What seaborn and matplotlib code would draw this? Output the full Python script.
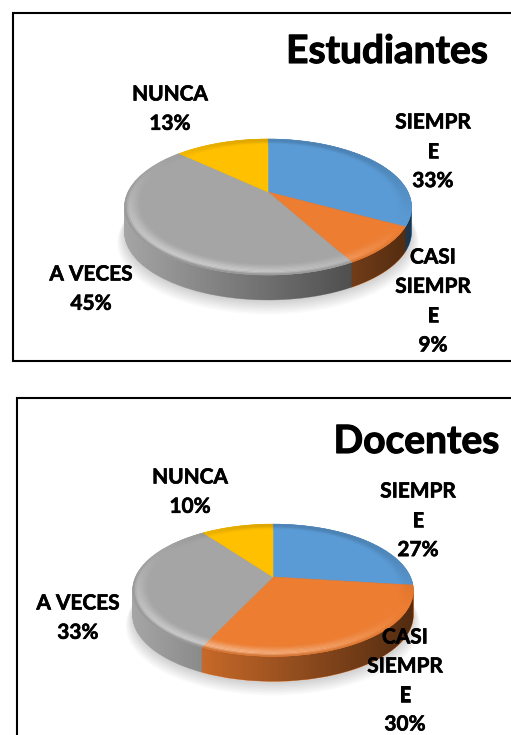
import numpy as np
import matplotlib
matplotlib.use("Agg")
import matplotlib.pyplot as plt
import matplotlib.patheffects as pe
import seaborn as sns
from matplotlib.patches import Wedge, Rectangle, PathPatch
from matplotlib.path import Path
from matplotlib.transforms import Transform

categories = ["SIEMPRE", "CASI SIEMPRE", "A VECES", "NUNCA"]
est_values = [33, 9, 45, 13]
doc_values = [27, 30, 33, 10]
est_title = "Estudiantes"
doc_title = "Docentes"
colors = ["#5B9BD5", "#ED7D31", "#A5A5A5", "#FFC000"]

sns.set_theme(style="white")
palette = sns.color_palette(colors)
FONT = ["Lato", "DejaVu Sans"]

W, H = 511, 735
fig = plt.figure(figsize=(W / 100, H / 100), dpi=100)
ax = fig.add_axes([0, 0, 1, 1])


class Persp(Transform):
    input_dims = output_dims = 2
    is_separable = False
    has_inverse = False

    def __init__(self, cx, cy, a, b, k, dy=0.0):
        super().__init__()
        self.p = (cx, cy, a, b, k, dy)

    def transform_non_affine(self, values):
        cx, cy, a, b, k, dy = self.p
        v = np.asarray(values, float)
        w = 1 + k * v[:, 1]
        return np.column_stack((cx + b * v[:, 0] / w, cy + dy - a * v[:, 1] / w))


def blend(c, t, amt):
    c = np.array(c)
    return tuple(np.clip(c + (np.array(t) - c) * amt, 0, 1))


def pie3d(values, cx, cy, a, b, k, depth):
    base = Persp(cx, cy, a, b, k)
    # soft shadow
    for i in range(9):
        s = 1.0 + 0.006 * i
        ax.add_patch(Wedge((0, 0), s, 0, 360, fc="#000000", ec="none", alpha=0.02,
                           transform=Persp(cx, cy, a, b, k, depth + 2 + i * 0.9) + ax.transData, zorder=1))
    # side wall: stacked copies of the pie
    for d in np.arange(depth, 0, -1.0):
        wedges, _ = ax.pie(values, colors=palette, startangle=90, counterclock=False,
                           wedgeprops=dict(linewidth=0.4))
        tr = Persp(cx, cy, a, b, k, d) + ax.transData
        for w, col in zip(wedges, palette):
            w.set_edgecolor(col)
            w.set_transform(tr)
            w.set_zorder(2)
    # horizontal shading over the wall
    t = np.linspace(0, 2 * np.pi, 361)
    pts = np.column_stack((np.cos(t), np.sin(t)))
    top = base.transform_non_affine(pts)
    low = Persp(cx, cy, a, b, k, depth).transform_non_affine(pts)
    il, ir = top[:, 0].argmin(), top[:, 0].argmax()
    xl, xr = top[il, 0], top[ir, 0]
    up = np.roll(np.arange(361), -ir)[:(il - ir) % 361 + 1]
    lo_idx = np.roll(np.arange(361), -il)[:(ir - il) % 361 + 1]
    outline = np.vstack((top[up], low[lo_idx]))
    img = np.zeros((1, 256, 4))
    img[0, :, 3] = np.linspace(0.0, 0.66, 256)
    im = ax.imshow(img, extent=(xl, xr, cy + 120, cy - 120), aspect="auto", zorder=3, interpolation="bilinear")
    im.set_clip_path(PathPatch(Path(outline), transform=ax.transData, fc="none", ec="none"))
    # top surface
    wedges, _ = ax.pie(values, colors=palette, startangle=90, counterclock=False,
                       wedgeprops=dict(linewidth=0.4))
    tr = base + ax.transData
    for w, col in zip(wedges, palette):
        w.set_edgecolor(col)
        w.set_transform(tr)
        w.set_zorder(4)
    # bevel at the rim of the top surface
    L = np.array([-0.45, -0.89])
    r0 = 0.88
    radii = np.linspace(r0, 1.0, 11)
    total = float(sum(values))
    start = 90.0
    for v, col in zip(values, palette):
        end = start - 360 * v / total
        n = max(int((start - end) / 3), 2)
        edges = np.linspace(end, start, n + 1)
        for th1, th2 in zip(edges[:-1], edges[1:]):
            mid = np.radians((th1 + th2) / 2)
            s = float(np.dot([np.cos(mid), np.sin(mid)], L))
            for r1, r2 in zip(radii[:-1], radii[1:]):
                u = ((r1 + r2) / 2 - r0) / (1 - r0)
                rise = np.sin(np.pi / 2 * min(u / 0.78, 1)) ** 2
                fall = max(0.0, (u - 0.78) / 0.22)
                bump = rise * (1 - fall)
                if s > 0:
                    fc = blend(col, (1, 1, 1), 0.42 * s ** 1.3 * bump)
                    fc = blend(fc, (0, 0, 0), 0.16 * fall * s)
                else:
                    fc = blend(col, (0, 0, 0), 0.16 * (-s) * rise)
                ax.add_patch(Wedge((0, 0), r2, th1, th2 + 0.2, width=r2 - r1, fc=fc, ec=fc, lw=0.2,
                                   transform=tr, zorder=5))
        start = end


def lines(x, y0, parts, step=29.3):
    for i, s in enumerate(parts):
        ax.text(x, y0 + 1.5 + i * step, s, ha="center", va="center", fontsize=15, fontweight="bold",
                family=FONT, color="black", zorder=10,
                path_effects=[pe.withStroke(linewidth=0.45, foreground="black")])


def title(x, y, s):
    ax.text(x, y, s, ha="center", va="center", fontsize=28, fontweight="bold", family=FONT,
            color="black", zorder=10, path_effects=[pe.withStroke(linewidth=0.8, foreground="black")])


# frames
ax.add_patch(Rectangle((13, 13), 530, 348, fc="white", ec="black", lw=1.5, zorder=0.5))
ax.add_patch(Rectangle((17, 398), 530, 380, fc="white", ec="black", lw=1.5, zorder=0.5))

pie3d(est_values, 268, 192, 64.7, 140, 0.2206, 25)
pie3d(doc_values, 273, 577, 63.5, 137.5, 0.2, 25)

title(387, 51.5, est_title)
title(416.5, 441.5, doc_title)

lines(433, 121, ["SIEMPR", "E", f"{est_values[0]}%"])
lines(433, 256, ["CASI", "SIEMPR", "E", f"{est_values[1]}%"])
lines(91, 273, ["A VECES", f"{est_values[2]}%"])
lines(170, 93, ["NUNCA", f"{est_values[3]}%"])

lines(418, 490, ["SIEMPR", "E", f"{doc_values[0]}%"])
lines(405, 636, ["CASI", "SIEMPR", "E", f"{doc_values[1]}%"], step=29.0)
lines(78, 602, ["A VECES", f"{doc_values[2]}%"])
lines(190, 476, ["NUNCA", f"{doc_values[3]}%"])

ax.set_aspect("auto")
ax.set_xlim(0, W)
ax.set_ylim(H, 0)
ax.axis("off")
fig.savefig("out.png", dpi=100, facecolor="white")
